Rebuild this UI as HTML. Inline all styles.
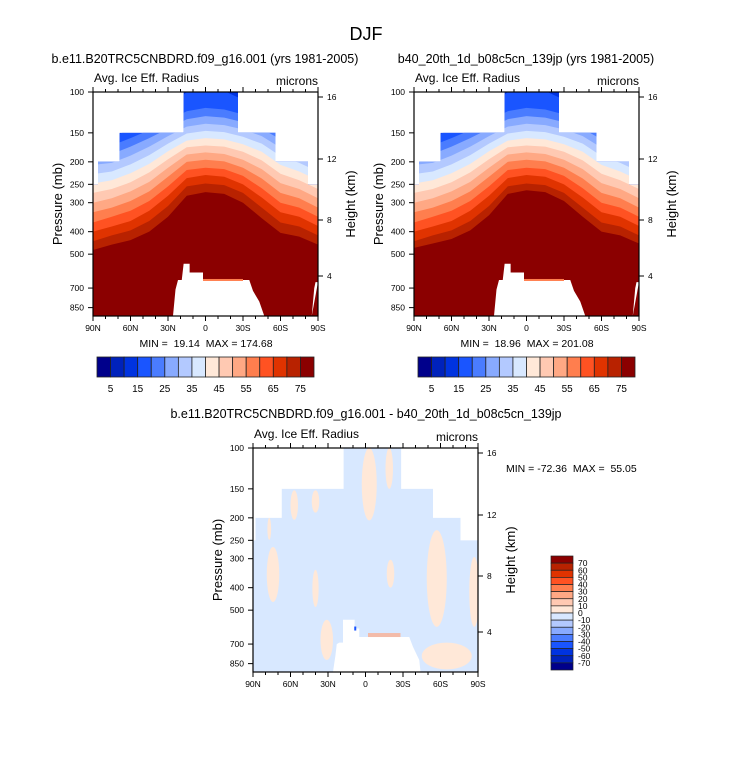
<!DOCTYPE html>
<html><head><meta charset="utf-8"><style>
body{margin:0;background:#fff;}
svg text{font-family:"Liberation Sans",Arial,sans-serif;fill:#000;white-space:pre;}
</style></head><body>
<svg id="fig" width="733" height="768" viewBox="0 0 733 768" xmlns="http://www.w3.org/2000/svg">
<text x="366" y="40" font-size="18" text-anchor="middle">DJF</text>
<text x="205" y="63" font-size="12.5" text-anchor="middle">b.e11.B20TRC5CNBDRD.f09_g16.001 (yrs 1981-2005)</text>
<text x="526" y="63" font-size="12.5" text-anchor="middle">b40_20th_1d_b08c5cn_139jp (yrs 1981-2005)</text>
<text x="366" y="418" font-size="12.5" text-anchor="middle">b.e11.B20TRC5CNBDRD.f09_g16.001 - b40_20th_1d_b08c5cn_139jp</text>
<g id="panels"></g>
</svg>
<script>
// ---------- data ----------
const lats=[90,75,60,45,30,15,0,-15,-30,-45,-60,-75,-90];
const c15=[158,156,145,135,118,100,97,99,108,123,137,145,158];
const c20=[172,170,158,146,133,121,117,119,125,133,148,158,172];
const c25=[188,185,172,158,144,131,127,129,135,144,160,171,186];
const c30=[206,202,188,172,155,141,137,139,145,155,174,186,202];
const c35=[226,220,205,187,167,151,147,149,156,167,189,202,220];
const c40=[248,240,224,204,180,162,158,160,168,181,206,220,240];
const c45=[272,262,245,222,195,173,170,172,181,197,225,240,262];
const c50=[300,287,268,244,212,186,182,185,196,215,247,262,287];
const c55=[330,315,295,268,232,200,196,199,212,236,272,287,315];
const c60=[365,345,325,295,255,217,212,215,230,260,300,315,345];
const c65=[400,380,360,325,280,235,228,232,250,285,330,345,378];
const c70=[440,415,395,360,310,255,248,252,272,315,365,380,415];
const c75=[480,455,435,400,345,280,270,275,300,350,405,420,455];
const contourLevels=[15,20,25,30,35,40,45,50,55,60,65,70,75];
const contourRows=[c15,c20,c25,c30,c35,c40,c45,c50,c55,c60,c65,c70,c75];
const c75b=[470,450,430,395,340,275,265,270,295,345,400,415,450];

const topMaskLat=[90,86,68.7,17.5,-26,-56,-82];
const topMaskP=[250,200,150,100,150,200,250];
const groundLat=[26,24,22,19,17.5,12.7,12.7,2,2,-35,-38,-43,-47];
const groundP=[923,710,646,646,550,550,600,600,646,646,720,800,923];
const edgeLat=[-85,-87,-88,-90];
const edgeP=[923,700,660,660];

const diffTopLat=[90,88,67,17.5,-28.5,-54,-76];
const diffTopP=[250,200,150,100,150,200,250];
const diffGroundLat=[26,24,23,21,18,18,8.7,8.7,5,5,-35,-38,-43,-44];
const diffGroundP=[923,780,700,690,690,550,550,600,600,653,653,720,820,923];
const patchLat=[74,77,57,40,40,-3,-19,-20,-57,-87,-65,31];
const patchPTop=[267,200,152,152,335,100,100,303,226,295,690,550];
const patchPBot=[461,249,204,190,485,205,150,400,590,590,900,820];
const patchHalfW=[5,1.5,3,3,2.5,6,3,3,8,4,20,5];

const seqColors=["#00008B","#0022BB","#0033E0","#1A55FF","#4A7CFF","#88AAFF","#B3C9FF","#D8E8FF","#FFE8D8","#FFC9B2","#FFA884","#FF7E4E","#FF5222","#E03300","#B82200","#8B0000"];
const seqLabels=["5","15","25","35","45","55","65","75"];
const diffLabels=["70","60","50","40","30","20","10","0","-10","-20","-30","-40","-50","-60","-70"];
const pTicks=[100,150,200,250,300,400,500,700,850];
const hTicks=[16,12,8,4];
const hTickOffsets=[5,67,128,184];
const latTicks=[90,60,30,0,-30,-60,-90];
const latTickLabels=["90N","60N","30N","0","30S","60S","90S"];

// ---------- drawing ----------
const NS="http://www.w3.org/2000/svg";
const root=document.getElementById('panels');
const W=225,H=224,PB=923;
function mk(tag,attrs,parent){const e=document.createElementNS(NS,tag);for(const k in attrs)e.setAttribute(k,attrs[k]);(parent||root).appendChild(e);return e;}
function xL(lat,x0){return x0+(90-lat)/180*W;}
function yP(p,y0){return y0+(Math.log10(p)-2)*232;}
function topMaskPath(x0,y0,la,pa){
  let d=`M${xL(90,x0)},${y0+H}`;
  for(let i=0;i<la.length;i++){
    const xa=xL(la[i],x0), xb=xL(i+1<la.length?la[i+1]:-90,x0), y=yP(pa[i],y0);
    d+=` L${xa},${y} L${xb},${y}`;
  }
  return d+` L${xL(-90,x0)},${y0+H} Z`;
}
function polyPath(x0,y0,la,pa){return 'M'+la.map((l,i)=>xL(l,x0)+','+yP(pa[i],y0)).join(' L')+' Z';}
function axes(g,x0,y0,name){
  mk('rect',{x:x0,y:y0,width:W,height:H,fill:'none',stroke:'#000','stroke-width':1.2},g);
  for(let l=90;l>=-90;l-=10){
    const x=xL(l,x0), maj=(l%30===0);
    mk('line',{x1:x,x2:x,y1:y0+H,y2:y0+H+(maj?5:3),stroke:'#000','stroke-width':1},g);
    mk('line',{x1:x,x2:x,y1:y0,y2:y0-(maj?5:3),stroke:'#000','stroke-width':1},g);
  }
  latTicks.forEach((l,i)=>{const t=mk('text',{x:xL(l,x0),y:y0+H+15,'font-size':8.5,'text-anchor':'middle'},g);t.textContent=latTickLabels[i];
    
    });
  pTicks.forEach(p=>{const y=yP(p,y0);mk('line',{x1:x0-5,x2:x0,y1:y,y2:y,stroke:'#000'},g);
    const t=mk('text',{x:x0-9,y:y+3,'font-size':8.5,'text-anchor':'end'},g);t.textContent=p;
    
    });
  hTicks.forEach((h,i)=>{const y=y0+hTickOffsets[i];mk('line',{x1:x0+W,x2:x0+W+5,y1:y,y2:y,stroke:'#000'},g);
    const t=mk('text',{x:x0+W+9,y:y+3,'font-size':8.5},g);t.textContent=h;
    
    });
  const a=mk('text',{x:x0+1,y:y0-10,'font-size':12},g);a.textContent='Avg. Ice Eff. Radius';
  
  
  const u=mk('text',{x:x0+W,y:y0-7,'font-size':12,'text-anchor':'end'},g);u.textContent='microns';
  
  
  const py=mk('text',{x:0,y:0,'font-size':13,'text-anchor':'middle',transform:`translate(${x0-31},${y0+112}) rotate(-90)`},g);py.textContent='Pressure (mb)';
  
  
  const hy=mk('text',{x:0,y:0,'font-size':13,'text-anchor':'middle',transform:`translate(${x0+W+37},${y0+112}) rotate(-90)`},g);hy.textContent='Height (km)';
  
  
}
function seqPanel(x0,y0,id,bottomRow,minmax){
  const g=mk('g',{});
  
  
  const cp=mk('clipPath',{id:id+'-clip'},g);
  mk('path',{d:topMaskPath(x0,y0,topMaskLat,topMaskP)},cp);
  const cg=mk('g',{'clip-path':`url(#${id}-clip)`},g);
  mk('rect',{x:x0,y:y0,width:W,height:H,fill:seqColors[2]},cg);
  contourRows.forEach((row,k)=>{
    const r=(k===contourRows.length-1)?bottomRow:row;
    const lvl=contourLevels[k];
    let d='M'+lats.map((l,i)=>xL(l,x0)+','+yP(r[i],y0)).join(' L');
    d+=` L${xL(-90,x0)},${y0+H} L${xL(90,x0)},${y0+H} Z`;
    const p=mk('path',{d:d,fill:seqColors[lvl/5]},cg);
    
    
  });
  const gr=mk('path',{d:polyPath(x0,y0,groundLat,groundP),fill:'#fff'},cg);
  
  
  mk('path',{d:polyPath(x0,y0,edgeLat,edgeP),fill:'#fff'},cg);
  mk('rect',{x:xL(2,x0),y:yP(646,y0)-1,width:xL(-30,x0)-xL(2,x0),height:2,fill:'#FF7E4E'},cg);
  axes(g,x0,y0);
  const m=mk('text',{x:x0+113,y:y0+H+31,'font-size':10.5,'text-anchor':'middle'},g);m.textContent=minmax;
  
  
  const cb=mk('g',{},g);
  
  
  const bx=x0+4,by=y0+265,bw=217/16;
  seqColors.forEach((c,i)=>mk('rect',{x:bx+i*bw,y:by,width:bw,height:20,fill:c,stroke:'#222','stroke-width':0.8},cb));
  seqLabels.forEach((s,i)=>{const t=mk('text',{x:bx+(2*i+1)*bw,y:by+35,'font-size':10,'text-anchor':'middle'},cb);t.textContent=s;
    
    });
}
seqPanel(93,92,'left-panel',c75,'MIN =  19.14  MAX = 174.68');
seqPanel(414,92,'right-panel',c75b,'MIN =  18.96  MAX = 201.08');

// difference panel
(function(){
  const x0=253,y0=448;
  const g=mk('g',{});
  
  
  const cp=mk('clipPath',{id:'diff-clip'},g);
  mk('path',{d:topMaskPath(x0,y0,diffTopLat,diffTopP)},cp);
  const cg=mk('g',{'clip-path':'url(#diff-clip)'},g);
  mk('rect',{x:x0,y:y0,width:W,height:H,fill:'#D8E8FF'},cg);
  patchLat.forEach((l,i)=>{
    const yt=yP(patchPTop[i],y0), yb=yP(patchPBot[i],y0);
    const e=mk('ellipse',{cx:xL(l,x0),cy:(yt+yb)/2,rx:patchHalfW[i]/180*W,ry:(yb-yt)/2,fill:'#FFE8D8'},cg);
    
    
  });
  mk('path',{d:polyPath(x0,y0,diffGroundLat,diffGroundP),fill:'#fff'},cg);
  mk('rect',{x:xL(-2,x0),y:yP(640,y0)-2,width:xL(-28,x0)-xL(-2,x0),height:4,fill:'#FFA884',opacity:0.7},cg);
  mk('rect',{x:xL(9,x0),y:yP(600,y0)-2,width:2,height:4,fill:'#1A55FF'},cg);
  axes(g,x0,y0);
  const m=mk('text',{x:506,y:472,'font-size':10.5},g);m.textContent='MIN = -72.36  MAX =  55.05';
  
  
  const cb=mk('g',{},g);
  
  
  const bx=551,by=556,bh=114/16;
  seqColors.slice().reverse().forEach((c,i)=>mk('rect',{x:bx,y:by+i*bh,width:22,height:bh,fill:c,stroke:'#222','stroke-width':0.7},cb));
  diffLabels.forEach((s,i)=>{const t=mk('text',{x:578,y:by+(i+1)*bh+3,'font-size':8.5},cb);t.textContent=s;
    
    });
})();
</script>
</body></html>
